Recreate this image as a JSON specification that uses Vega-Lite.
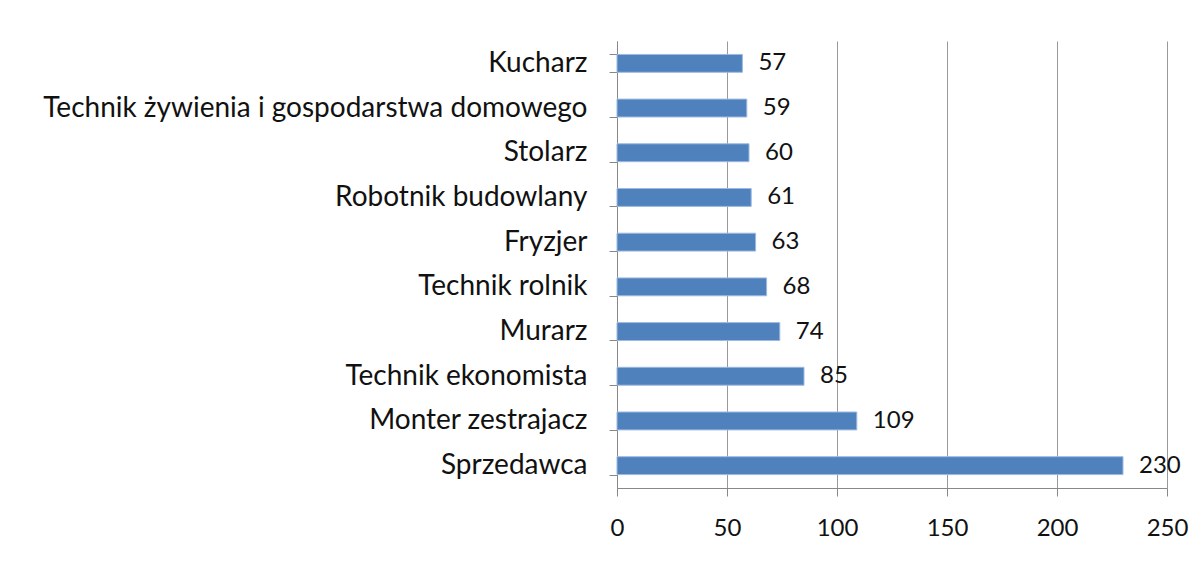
{
  "$schema": "https://vega.github.io/schema/vega-lite/v6.json",
  "autosize": "none",
  "width": 550,
  "height": 447,
  "padding": {"left": 617, "top": 41, "right": 36, "bottom": 75},
  "background": "white",
  "config": {"view": {"stroke": null}, "font": "Lato"},
  "data": {"values": [
    {"job": "Kucharz", "n": 57},
    {"job": "Technik żywienia i gospodarstwa domowego", "n": 59},
    {"job": "Stolarz", "n": 60},
    {"job": "Robotnik budowlany", "n": 61},
    {"job": "Fryzjer", "n": 63},
    {"job": "Technik rolnik", "n": 68},
    {"job": "Murarz", "n": 74},
    {"job": "Technik ekonomista", "n": 85},
    {"job": "Monter zestrajacz", "n": 109},
    {"job": "Sprzedawca", "n": 230}
  ]},
  "encoding": {
    "y": {"field": "job", "type": "nominal", "sort": null,
      "scale": {"paddingInner": 0.6, "paddingOuter": 0.3},
      "axis": {"title": null, "domainColor": "#888", "tickColor": "#888", "tickBand": "extent", "tickSize": 8,
        "labelFontSize": 28, "labelColor": "#111", "labelPadding": 22, "labelFont": "Lato", "labelLimit": 700}},
    "x": {"field": "n", "type": "quantitative", "scale": {"domain": [0, 250]},
      "axis": {"title": null, "values": [0, 50, 100, 150, 200, 250], "grid": true, "gridColor": "#999", "domainColor": "#888", "tickColor": "#888",
        "tickSize": 8, "labelFontSize": 24, "labelColor": "#111", "labelPadding": 20, "labelFont": "Lato", "labelFlush": false}}
  },
  "layer": [
    {"mark": {"type": "bar", "color": "#4F81BD", "stroke": "#9DB9E0", "strokeWidth": 1}},
    {"mark": {"type": "text", "align": "left", "dx": 16, "fontSize": 24, "color": "#111", "font": "Lato"},
      "encoding": {"text": {"field": "n", "type": "quantitative"}}}
  ]
}
